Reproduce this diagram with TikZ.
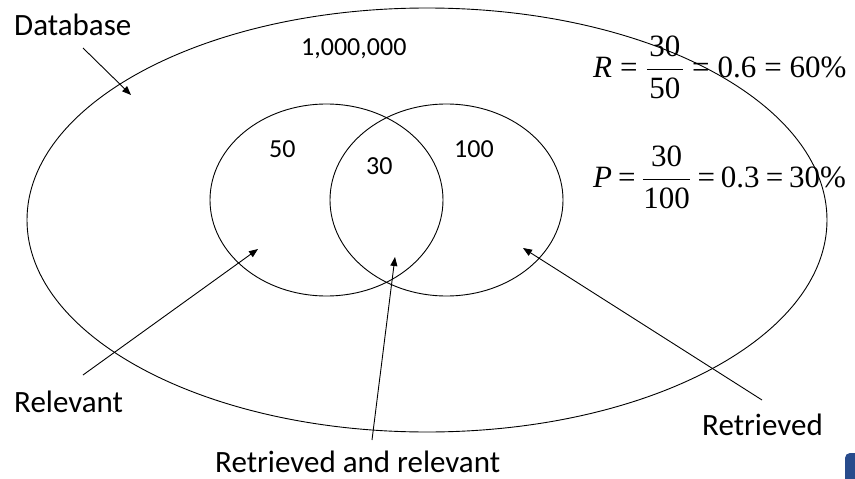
\documentclass[tikz,border=0pt]{standalone}
\usepackage{fix-cm}
\usepackage{amsmath}
\usepackage{fontspec}
\setmainfont{Carlito}
\newfontfamily\formfont{Liberation Serif}
\usetikzlibrary{arrows.meta}

\definecolor{logoblue}{RGB}{40,75,140}

% fraction set in the serif face with a bar of the right weight
\newcommand\ratio[3][2.5pt]{$\displaystyle\genfrac{}{}{1.2pt}{0}{\hbox{\formfont\kern#1 #2\kern#1}}{\hbox{\formfont\kern#1 #3\kern#1}}$}
\newcommand\eqsign[1][8pt]{\kern#1=\kern#1}

\begin{document}
\begin{tikzpicture}[x=1pt,y=-1pt,
  setline/.style={draw=black,line width=0.9pt},
  pointer/.style={draw=black,line width=0.9pt,-{Triangle[length=9pt,width=7pt]}},
  label/.style={inner sep=0pt,anchor=base west,font=\fontsize{31}{37}\selectfont},
  count/.style={inner sep=0pt,anchor=base west,font=\fontsize{26}{31}\selectfont},
  formula/.style={inner sep=0pt,anchor=base west,font=\fontsize{31}{37}\selectfont\formfont}]
\useasboundingbox (0,0) rectangle (855,479);

% database, relevant and retrieved sets
\draw[setline] (427,220) ellipse [x radius=400pt, y radius=212pt];
\draw[setline] (326.5,200) ellipse [x radius=116.5pt, y radius=96pt];
\draw[setline] (446.5,200) ellipse [x radius=116.5pt, y radius=96pt];

% set sizes
\node[count] (total) at (301,55) {1,000,000};
\node[count] (nrel) at (269,157) {50};
\node[count] (nboth) at (366,174) {30};
\node[count] (nret) at (454,157) {100};

% recall and precision
\node[formula] (recall) at (593,77)
  {\itshape R\upshape\eqsign\ratio{30}{50}\eqsign 0.6\eqsign 60\%};
\node[formula] (precision) at (593,187)
  {\itshape P\upshape\eqsign[6pt]\ratio[0.5pt]{30}{100}\eqsign[6pt]0.3\eqsign[6pt]30\%};

% labels
\node[label] (db) at (14,35) {Database};
\node[label] (rel) at (14,412) {Relevant};
\node[label] (ret) at (702,435) {Retrieved};
\node[label] (both) at (215,472) {Retrieved and relevant};

% pointer ends
\coordinate (dbtail) at (83,48);
\coordinate (dbtip) at (131,95);
\coordinate (reltail) at (83,375);
\coordinate (reltip) at (258,249);
\coordinate (bothtail) at (372,440);
\coordinate (bothtip) at (395,257);
\coordinate (rettail) at (762,400);
\coordinate (rettip) at (523,248);

\draw[pointer] (dbtail) -- (dbtip);
\draw[pointer] (reltail) -- (reltip);
\draw[pointer] (bothtail) -- (bothtip);
\draw[pointer] (rettail) -- (rettip);

% corner of a logo at the lower right edge
\begin{scope}
  \clip (0,0) rectangle (855,479);
  \fill[logoblue,rounded corners=5pt] (845,453) rectangle (862,486);
\end{scope}
\end{tikzpicture}
\end{document}
